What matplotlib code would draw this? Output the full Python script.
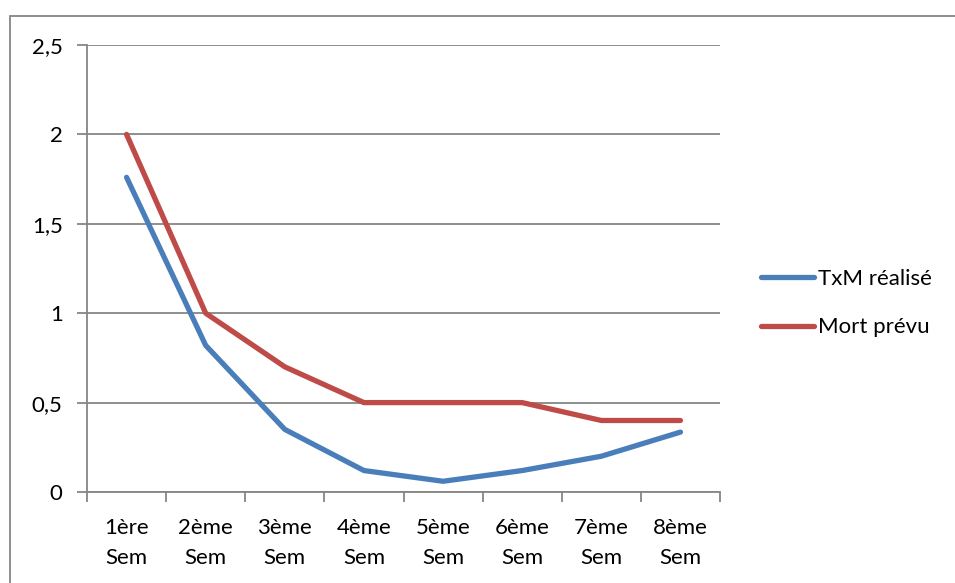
import matplotlib.pyplot as plt
from matplotlib.patches import Rectangle
from matplotlib.ticker import FixedLocator

plt.rcParams['font.family'] = ['Lato', 'DejaVu Sans']

categories = ['1ère\nSem', '2ème\nSem', '3ème\nSem', '4ème\nSem',
              '5ème\nSem', '6ème\nSem', '7ème\nSem', '8ème\nSem']
txm_realise = [1.76, 0.82, 0.35, 0.12, 0.06, 0.12, 0.20, 0.335]
mort_prevu = [2.0, 1.0, 0.7, 0.5, 0.5, 0.5, 0.4, 0.4]
y_ticks = [0, 0.5, 1, 1.5, 2, 2.5]
y_labels = ['0', '0,5', '1', '1,5', '2', '2,5']

grid_col = '#868686'
fs = 16

fig = plt.figure(figsize=(9.55, 5.83), dpi=100)
ax = fig.add_axes([87 / 955, 1 - 492 / 583, 633 / 955, 447 / 583])

x = list(range(len(categories)))
ax.plot(x, txm_realise, color='#4a7ebb', lw=3.8, solid_capstyle='round',
        label='TxM réalisé')
ax.plot(x, mort_prevu, color='#be4b48', lw=3.8, solid_capstyle='round',
        label='Mort prévu')

ax.set_xlim(-0.5, len(categories) - 0.5)
ax.set_ylim(0, 2.5)
ax.set_yticks(y_ticks)
ax.set_yticklabels(y_labels)
ax.yaxis.grid(True, color=grid_col, lw=1.3)
ax.set_axisbelow(True)

ax.set_xticks([i - 0.5 for i in range(len(categories) + 1)])
ax.set_xticklabels([])
ax.xaxis.set_minor_locator(FixedLocator(x))
ax.set_xticklabels(categories, minor=True)
ax.tick_params(axis='x', which='minor', length=0, pad=19)
ax.tick_params(axis='x', which='major', length=7, color=grid_col, width=1.3)
ax.tick_params(axis='y', length=7, color=grid_col, width=1.3, pad=10.5)
ax.tick_params(which='both', labelsize=fs, labelcolor='black')
for lbl in ax.get_xticklabels(minor=True):
    lbl.set_linespacing(1.6)

for side in ['top', 'right']:
    ax.spines[side].set_visible(False)
for side in ['left', 'bottom']:
    ax.spines[side].set_color(grid_col)
    ax.spines[side].set_linewidth(1.3)

fig.legend(loc='center left', bbox_to_anchor=(741 / 955, 1 - 303 / 583),
           frameon=False, fontsize=fs, handlelength=2.4, handletextpad=0.15,
           labelspacing=1.3)

fig.patches.append(Rectangle((10 / 955, -0.1), 1.2, 1 - 16 / 583 + 0.1,
                             transform=fig.transFigure, fill=False,
                             edgecolor=grid_col, lw=1.3))

fig.savefig('out.png', dpi=100)
